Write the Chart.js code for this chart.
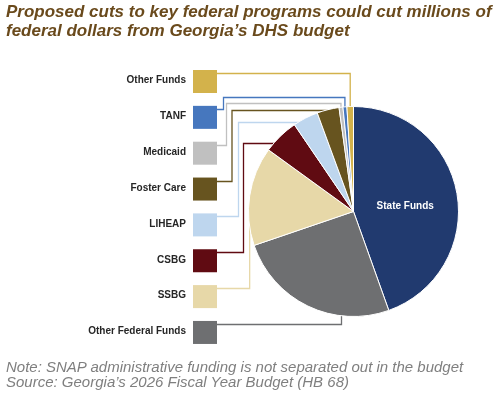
<!DOCTYPE html>
<html>
<head>
<meta charset="utf-8">
<script src="https://cdn.jsdelivr.net/npm/chart.js@4/dist/chart.umd.min.js"></script>
<style>
  body { margin: 0; background: #fff; }
  #wrap { position: relative; width: 497px; height: 393px; }
  #title {
    position: absolute; left: 6px; top: 2px; white-space: nowrap;
    font: italic bold 17px/19px "Liberation Sans", Arial, sans-serif; color: #6a4a1c;
  }
  #note {
    position: absolute; left: 6px; top: 359px; white-space: nowrap;
    font: italic 15px/15px "Liberation Sans", Arial, sans-serif; color: #7f7f7f;
  }
  canvas { position: absolute; left: 0; top: 0; }
</style>
</head>
<body>
<div id="wrap">
  <canvas id="fundsChart" width="497" height="393"></canvas>
  <div id="title">Proposed cuts to key federal programs could cut millions of<br>federal dollars from Georgia’s DHS budget</div>
  <div id="note">Note: SNAP administrative funding is not separated out in the budget<br>Source: Georgia’s 2026 Fiscal Year Budget (HB 68)</div>
</div>
<script>
// Veri
const categories = ['State Funds', 'Other Federal Funds', 'SSBG', 'CSBG', 'LIHEAP', 'Foster Care', 'Medicaid', 'TANF', 'Other Funds'];
const shares = [44.5, 25.2, 15.2, 5.5, 3.9, 3.4, 0.6, 0.6, 1.0];
const sliceColors = ['#213a6f', '#6e6f71', '#e7d8a8', '#600b12', '#bed6ee', '#67541f', '#c0c0c0', '#4677be', '#d3b24b'];

// Sol taraftaki etiket listesi (yukaridan asagiya), dilim indeksleri
const legendOrder = [8, 7, 6, 5, 4, 3, 2, 1];

// Etiket kutulari ve baglanti cizgileri icin yerlesim
var boxX = 193, boxW = 24, boxH = 23, boxTop0 = 70, boxStep = 35.85;
var leaderRoutes = [
    { kind: 'down' },
    { kind: 'down', elbow: 223.5, level: 97.5 },
    { kind: 'down', elbow: 226.5, level: 103.5 },
    { kind: 'side', elbow: 232, level: 110.5 },
    { kind: 'side', elbow: 238.5, level: 122.5 },
    { kind: 'side', elbow: 243.5, level: 143.5 },
    { kind: 'up' },
    { kind: 'up', dx: -12 }
];

function boxTop(row) {
    return boxTop0 + row * boxStep;
}

var leaderPlugin = {
    id: 'leaders',
    beforeDatasetsDraw: function (chart) {
        var ctx = chart.ctx;
        var arcs = chart.getDatasetMeta(0).data;
        ctx.save();
        ctx.lineWidth = 1.3;
        legendOrder.forEach(function (idx, row) {
            var arc = arcs[idx];
            var mid = (arc.startAngle + arc.endAngle) / 2;
            var mx = arc.x + Math.cos(mid) * arc.outerRadius;
            var route = leaderRoutes[row];
            var x0 = boxX + boxW, y0 = Math.round(boxTop(row) + 3) + 0.5;
            var pts = [[x0, y0]];
            if (route.kind === 'down') {
                if (route.elbow) {
                    pts.push([route.elbow, y0], [route.elbow, route.level], [mx, route.level]);
                } else {
                    pts.push([mx, y0]);
                }
                pts.push([mx, arc.y]);
            } else if (route.kind === 'side') {
                pts.push([route.elbow, y0], [route.elbow, route.level], [arc.x, route.level]);
            } else {
                var ux = route.dx != null ? arc.x + route.dx : mx;
                pts.push([ux, y0], [ux, arc.y]);
            }
            ctx.strokeStyle = sliceColors[idx];
            ctx.beginPath();
            pts.forEach(function (p, i) {
                if (i === 0) ctx.moveTo(p[0], p[1]); else ctx.lineTo(p[0], p[1]);
            });
            ctx.stroke();
        });
        ctx.restore();
    },
    afterDatasetsDraw: function (chart) {
        var ctx = chart.ctx;
        var arcs = chart.getDatasetMeta(0).data;
        ctx.save();
        ctx.font = 'bold 10px "Liberation Sans", Arial, sans-serif';
        ctx.textBaseline = 'middle';
        legendOrder.forEach(function (idx, row) {
            var top = boxTop(row);
            ctx.fillStyle = sliceColors[idx];
            ctx.fillRect(boxX, top, boxW, boxH);
            ctx.fillStyle = '#262626';
            ctx.textAlign = 'right';
            ctx.fillText(categories[idx], boxX - 7, top + boxH / 2 - 1);
        });
        // Dilim ustundeki etiket
        var pos = arcs[0].tooltipPosition();
        ctx.fillStyle = '#ffffff';
        ctx.textAlign = 'center';
        ctx.fillText(categories[0], pos.x, pos.y + 4);
        ctx.restore();
    }
};

new Chart(document.getElementById('fundsChart'), {
    type: 'pie',
    data: {
        labels: categories,
        datasets: [{
            data: shares,
            backgroundColor: sliceColors,
            borderColor: '#ffffff',
            borderWidth: 1
        }]
    },
    options: {
        responsive: false,
        animation: false,
        layout: {
            padding: { left: 248, right: 38, top: 106, bottom: 76 }
        },
        plugins: {
            legend: { display: false },
            tooltip: { enabled: false }
        }
    },
    plugins: [leaderPlugin]
});
</script>
</body>
</html>
